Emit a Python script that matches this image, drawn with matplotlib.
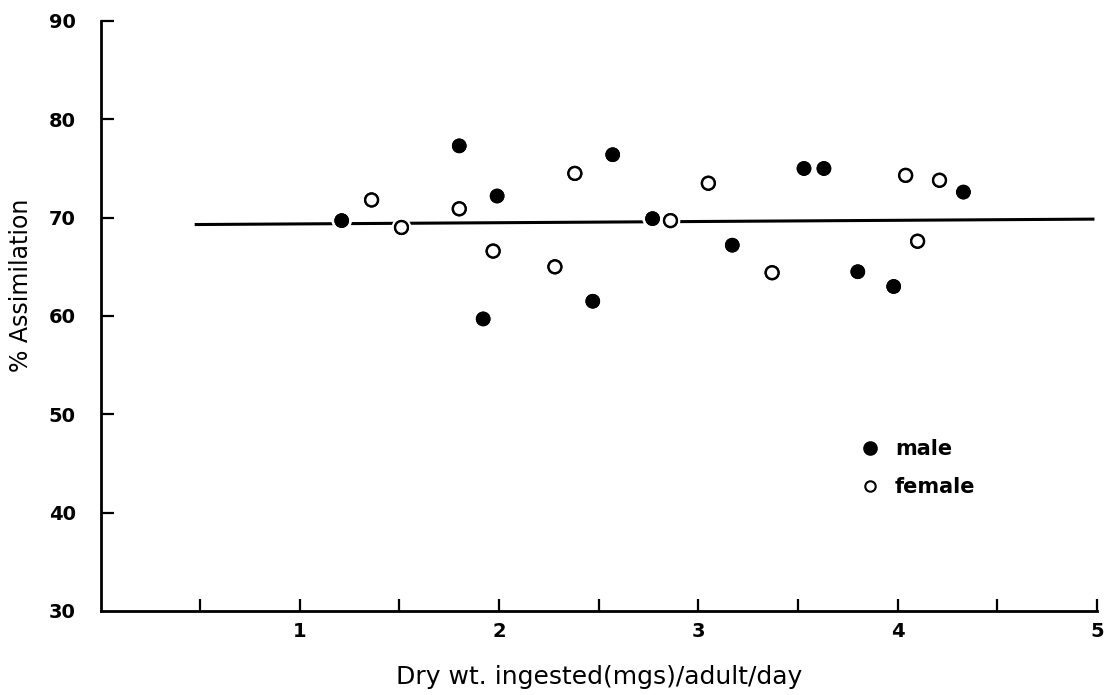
import matplotlib
matplotlib.use("Agg")
import matplotlib.pyplot as plt
import matplotlib.patheffects as pe
from matplotlib.lines import Line2D

# dry weight ingested (mg/adult/day) vs % assimilation
male_x = [1.21, 1.80, 1.99, 1.92, 2.57, 2.47, 2.77, 3.17, 3.53, 3.63, 3.80, 3.98, 4.33]
male_y = [69.7, 77.3, 72.2, 59.7, 76.4, 61.5, 69.9, 67.2, 75.0, 75.0, 64.5, 63.0, 72.6]

female_x = [1.36, 1.51, 1.80, 1.97, 2.38, 2.28, 2.86, 3.05, 3.37, 4.04, 4.21, 4.10]
female_y = [71.8, 69.0, 70.9, 66.6, 74.5, 65.0, 69.7, 73.5, 64.4, 74.3, 73.8, 67.6]

# fitted line end points
line_x = [0.48, 4.98]
line_y = [69.3, 69.85]

xticks_major = [1, 2, 3, 4, 5]
xticks_minor = [0.5, 1.5, 2.5, 3.5, 4.5]
yticks = [30, 40, 50, 60, 70, 80, 90]

plt.rcParams['font.family'] = ['DejaVu Sans']

fig = plt.figure(figsize=(11.2, 6.95), dpi=100)
ax = fig.add_axes([0.0898, 0.1209, 0.8896, 0.8489])

ax.plot(line_x, line_y, color='black', lw=2.2, zorder=1)

# white halo so the fitted line breaks around the points
halo = [pe.withStroke(linewidth=5, foreground='white'), pe.Normal()]
m1 = ax.scatter(male_x, male_y, s=95, c='black', edgecolors='black',
                linewidths=0.8, zorder=3, clip_on=False)
m1.set_path_effects(halo)
m2 = ax.scatter(female_x, female_y, s=85, facecolors='white', edgecolors='black',
                linewidths=1.7, zorder=3, clip_on=False)
m2.set_path_effects(halo)

ax.set_xlim(0, 5)
ax.set_ylim(30, 90)

for side in ['top', 'right']:
    ax.spines[side].set_visible(False)
for side in ['left', 'bottom']:
    ax.spines[side].set_linewidth(2.0)

ax.set_xticks(xticks_major)
ax.set_xticks(xticks_minor, minor=True)
ax.set_yticks(yticks)
ax.tick_params(axis='both', which='both', direction='in', length=9, width=1.6)
ax.tick_params(axis='x', pad=8)
ax.tick_params(axis='y', pad=18)
ax.yaxis.get_major_ticks()[0].tick1line.set_visible(False)
for lab in ax.get_xticklabels() + ax.get_yticklabels():
    lab.set_fontsize(14)
    lab.set_fontweight('bold')

ax.set_xlabel('Dry wt. ingested(mgs)/adult/day', fontsize=18, labelpad=17)
ax.set_ylabel('% Assimilation', fontsize=17)
ax.yaxis.set_label_coords(-0.068, 0.5525)

handles = [
    Line2D([], [], ls='none', marker='o', ms=9.5, mfc='black', mec='black'),
    Line2D([], [], ls='none', marker='o', ms=7.5, mfc='white', mec='black', mew=1.5),
]
leg = ax.legend(handles, ['male', 'female'], loc='upper left',
                bbox_to_anchor=(0.7617, 0.2915), frameon=False, fontsize=15,
                handlelength=1.0, handletextpad=0.7, labelspacing=0.87,
                borderpad=0, borderaxespad=0)
for t in leg.get_texts():
    t.set_fontweight('bold')

fig.savefig('out.png', dpi=100, facecolor='white')
